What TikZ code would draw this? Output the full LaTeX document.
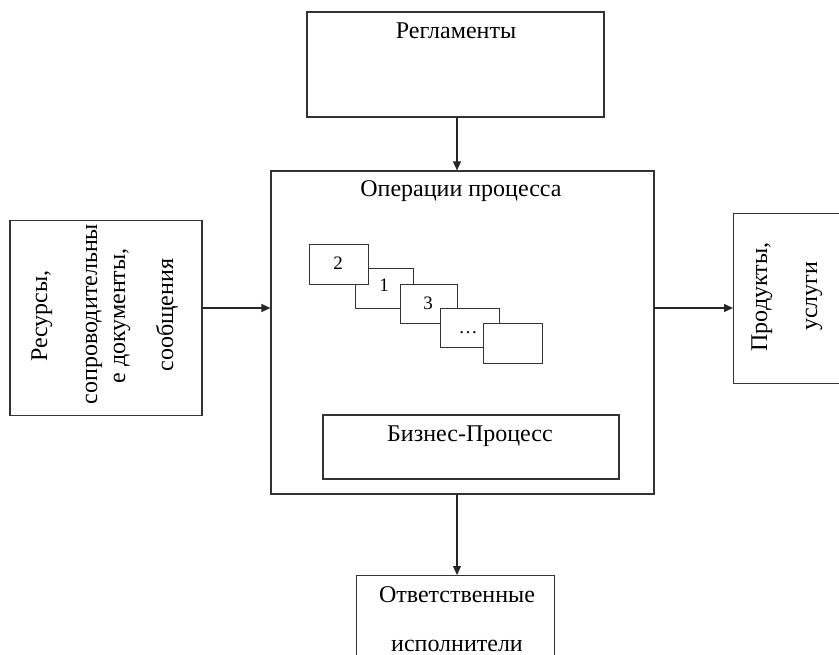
\documentclass[tikz,border=0pt]{standalone}
\usepackage{fontspec}
\setmainfont{Liberation Serif}
\usetikzlibrary{arrows.meta}
\begin{document}
\begin{tikzpicture}[x=1pt,y=-1pt,
  box/.style={draw=black!80,line width=1.2pt},
  card/.style={draw=black!80,line width=1.2pt,fill=white},
  lbl/.style={inner sep=0pt,anchor=base,font=\fontsize{24}{28}\selectfont},
  slbl/.style={inner sep=0pt,anchor=base,font=\fontsize{19}{22}\selectfont},
  vlbl/.style={inner sep=0pt,anchor=base,rotate=90,font=\fontsize{24}{28}\selectfont},
  flow/.style={draw=black!85,line width=1.2pt,-{Triangle[length=9pt,width=8pt]}}]
\useasboundingbox (0,0) rectangle (839,655);
\begin{scope}
\clip (0,0) rectangle (839,655);
% outer blocks
\node[box,minimum width=297pt,minimum height=105pt] (reg) at (455.5,64.5) {};
\node[box,minimum width=383pt,minimum height=323pt] (ops) at (462.5,332.5) {};
\node[box,minimum width=192pt,minimum height=195pt] (res) at (106,318) {};
\node[box,minimum width=130pt,minimum height=170pt,anchor=north west] (prod) at (733,213) {};
\node[box,minimum width=198pt,minimum height=110pt,anchor=north west] (resp) at (356,575) {};
\node[box,minimum width=296pt,minimum height=64pt] (bp) at (471,447) {};
\end{scope}
% texts
\node[lbl] (tReg) at (456,39) {Регламенты};
\node[lbl] (tOps) at (461,197) {Операции процесса};
\node[lbl] (tBp) at (470,442) {Бизнес-Процесс};
\node[lbl] (tResp1) at (457,602) {Ответственные};
\node[lbl] (tResp2) at (457,651) {исполнители};
\node[vlbl] (tRes1) at (47,316) {Ресурсы,};
\node[vlbl] (tRes2) at (97,314) {сопроводительны};
\node[vlbl] (tRes3) at (125,316) {е документы,};
\node[vlbl] (tRes4) at (173,315) {сообщения};
\node[vlbl] (tProd1) at (767,297) {Продукты,};
\node[vlbl] (tProd2) at (817,296) {услуги};
% stacked operation cards
\node[card,minimum width=58pt,minimum height=40pt,anchor=north west] (c1) at (355,268) {};
\node[card,minimum width=59pt,minimum height=40pt,anchor=north west] (c2) at (309,244) {};
\node[card,minimum width=57pt,minimum height=39pt,anchor=north west] (c3) at (400,284) {};
\node[card,minimum width=59pt,minimum height=39pt,anchor=north west] (c4) at (440,308) {};
\node[card,minimum width=59pt,minimum height=40pt,anchor=north west] (c5) at (483,323) {};
\node[slbl] (n2) at (338,270) {2};
\node[slbl] (n1) at (384,292) {1};
\node[slbl] (n3) at (428,310) {3};
\node[slbl] (n4) at (468,334) {…};
% connectors
\draw[flow] (reg.south -| 457,0) -- (ops.north -| 457,0);
\draw[flow] (res.east |- 0,308) -- (ops.west |- 0,308);
\draw[flow] (ops.east |- 0,308) -- (prod.west |- 0,308);
\draw[flow] (ops.south -| 457,0) -- (resp.north -| 457,0);
\end{tikzpicture}
\end{document}
